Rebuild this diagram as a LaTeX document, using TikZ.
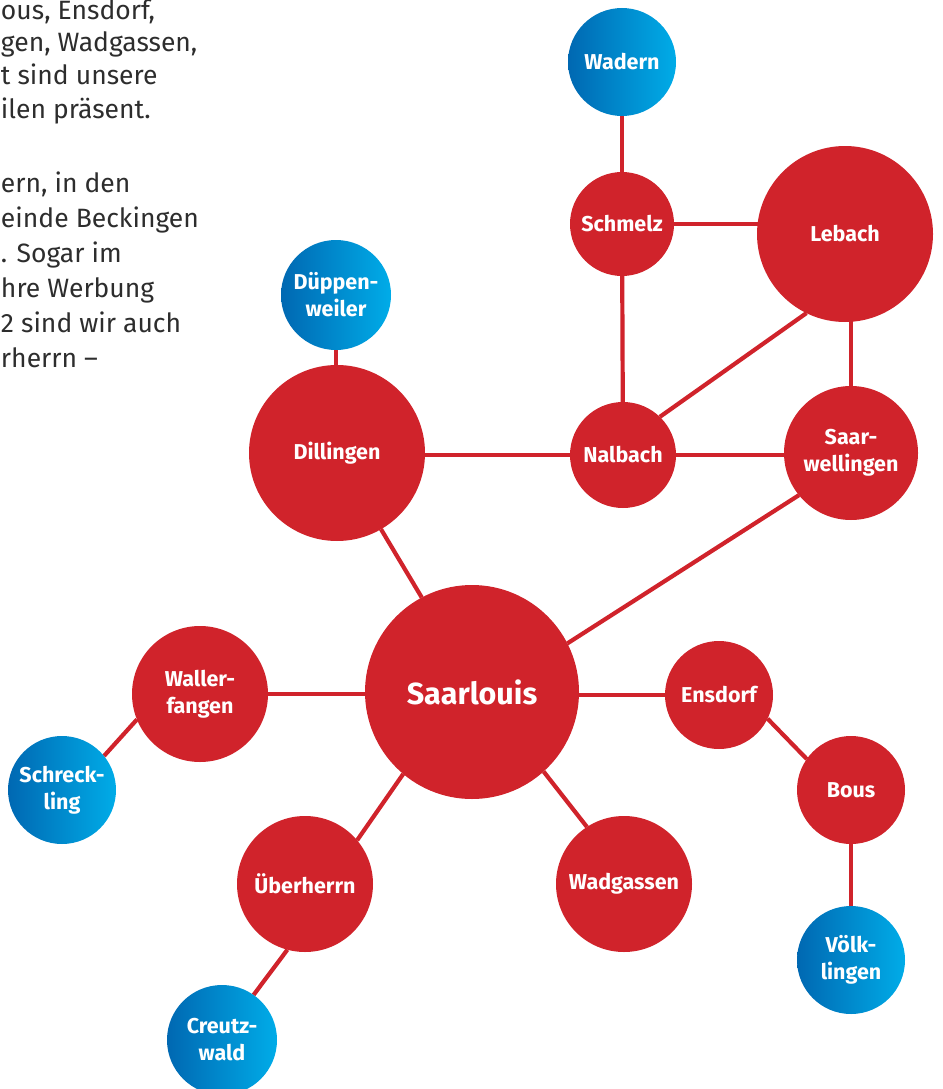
\documentclass[tikz,border=0pt]{standalone}
\usepackage{fontspec}
\setmainfont{Fira Sans}
\usetikzlibrary{backgrounds}
\definecolor{cred}{RGB}{208,35,43}
\definecolor{bdark}{RGB}{0,104,178}
\definecolor{blight}{RGB}{0,172,232}
\definecolor{bodytext}{RGB}{45,45,45}
\begin{document}
\begin{tikzpicture}[x=1pt,y=-1pt,
  city/.style={circle, fill=cred, inner sep=0pt, outer sep=0pt, text=white,
    font=\bfseries\fontsize{21.5}{27}\selectfont, align=center, minimum size=#1},
  ext/.style={circle, left color=bdark, right color=blight, inner sep=0pt, outer sep=0pt, text=white,
    font=\bfseries\fontsize{21.5}{27}\selectfont, align=center, minimum size=#1},
  link/.style={draw=cred, line width=4.2pt},
  body/.style={anchor=base west, inner sep=0pt, outer sep=0pt, text=bodytext,
    font=\fontsize{26.5}{33}\selectfont}]
\useasboundingbox (0,0) rectangle (942,1089);

% body text (clipped paragraph)
\node[body] (t1) at (1,20) {ous, Ensdorf,};
\node[body] (t2) at (1,52) {gen, Wadgassen,};
\node[body] (t3) at (1,85) {t sind unsere};
\node[body] (t4) at (1,119) {ilen präsent.};
\node[body] (t5) at (1,192) {ern, in den};
\node[body] (t6) at (1,227) {einde Beckingen};
\node[body] (t7) at (1,262) {. Sogar im};
\node[body] (t8) at (1,297) {hre Werbung};
\node[body] (t9) at (1,332) {2 sind wir auch};
\node[body] (t10) at (1,367) {rherrn –};

% nodes
\node[ext=108pt] (wadern) at (622,62) {Wadern};
\node[city=104pt] (schmelz) at (622,224) {Schmelz};
\node[city=176pt] (lebach) at (845,234) {Lebach};
\node[ext=110pt] (dueppen) at (336,295) {Düppen-\\weiler};
\node[city=176pt] (dillingen) at (337,453) {Dillingen};
\node[city=106pt] (nalbach) at (623,455) {Nalbach};
\node[city=134pt] (saarw) at (851,453) {Saar-\\wellingen};
\node[city=214pt, font=\bfseries\fontsize{30.5}{34}\selectfont] (saarlouis) at (472,692) {Saarlouis};
\node[city=136pt] (waller) at (200,694) {Waller-\\fangen};
\node[ext=108pt] (schreck) at (62,790) {Schreck-\\ling};
\node[city=108pt] (ensdorf) at (719,695) {Ensdorf};
\node[city=108pt] (bous) at (851,790) {Bous};
\node[ext=108pt] (voelk) at (851,960) {Völk-\\lingen};
\node[city=136pt] (ueber) at (305,884) {Überherrn};
\node[city=136pt] (wadg) at (624,884) {Wadgassen};
\node[ext=110pt] (creutz) at (222,1040) {Creutz-\\wald};

% connectors
\begin{pgfonlayer}{background}
\draw[link] (wadern.center) -- (schmelz.center);
\draw[link] (schmelz.center) -- (schmelz.center -| lebach.center);
\draw[link] (schmelz.center) -- (nalbach.center);
\draw[link] (lebach.244) -- (nalbach.46);
\draw[link] (saarw.center) -- (saarw.center |- lebach.center);
\draw[link] (dueppen.center) -- (dueppen.center |- dillingen.center);
\draw[link] (nalbach.center) -- (nalbach.center -| dillingen.center);
\draw[link] (nalbach.center) -- (nalbach.center -| saarw.center);
\draw[link] (dillingen.300) -- (saarlouis.118);
\draw[link] (saarw.219) -- (saarlouis.27);
\draw[link] (waller.center) -- (waller.center -| saarlouis.center);
\draw[link] (ensdorf.center) -- (ensdorf.center -| saarlouis.center);
\draw[link] (waller.202) -- (schreck.39);
\draw[link] (ensdorf.334) -- (bous.145);
\draw[link] (bous.center) -- (voelk.center);
\draw[link] (saarlouis.230) -- (ueber.40);
\draw[link] (saarlouis.312) -- (wadg.123);
\draw[link] (ueber.255) -- (creutz.55);
\end{pgfonlayer}
\end{tikzpicture}
\end{document}
